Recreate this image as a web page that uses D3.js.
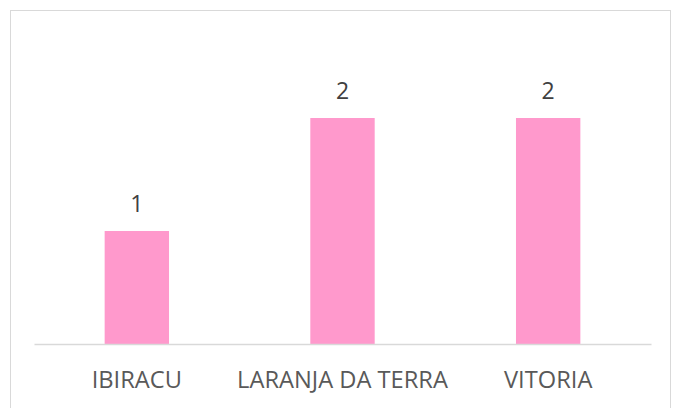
<!DOCTYPE html>
<html>
<head>
<meta charset="utf-8">
<script src="https://cdn.jsdelivr.net/npm/d3@7"></script>
<style>
html,body{margin:0;padding:0;background:#fff;}
svg{display:block;}
</style>
</head>
<body>
<svg id="chart" width="677" height="408"></svg>
<script>
const categories = ["IBIRACU", "LARANJA DA TERRA", "VITORIA"];
const values = [1, 2, 2];
const labels = ["1", "2", "2"];

const svg = d3.select("#chart");

svg.append("rect")
  .attr("x", 10.5).attr("y", 10.5)
  .attr("width", 660).attr("height", 410)
  .attr("fill", "#fff").attr("stroke", "#d9d9d9").attr("stroke-width", 1);

const x0 = 34, x1 = 651, yBase = 344;
const x = d3.scaleBand().domain(categories).range([x0, x1]).paddingInner(0.687).paddingOuter(0.3435);
const y = d3.scaleLinear().domain([0, 2.5]).range([yBase, yBase - 2.5 * 113]);

svg.selectAll("rect.bar").data(values).enter().append("rect")
  .attr("class", "bar")
  .attr("x", (d, i) => x(categories[i]))
  .attr("width", x.bandwidth())
  .attr("y", d => y(d))
  .attr("height", d => y(0) - y(d))
  .attr("fill", "#ff99cc");

const axis = d3.axisBottom(x).tickSize(0).tickPadding(0);
const ag = svg.append("g").attr("transform", `translate(0,${yBase})`).call(axis);
ag.select(".domain").attr("stroke", "#d9d9d9").attr("stroke-width", 1.3);
ag.selectAll(".tick text")
  .attr("y", 0).attr("dy", null)
  .attr("transform", "translate(0,43.5)")
  .attr("fill", "#595959")
  .style("font-family", "'Open Sans', sans-serif")
  .style("font-size", "22.5px")
  .each(function() {
    const target = { "LARANJA DA TERRA": 211 }[this.textContent];
    if (target) {
      const w = this.getComputedTextLength();
      const fs = 22.5 * target / w;
      d3.select(this.parentNode.parentNode).selectAll(".tick text").style("font-size", fs + "px");
    }
  });

svg.selectAll("text.lbl").data(values).enter().append("text")
  .attr("class", "lbl")
  .attr("x", (d, i) => x(categories[i]) + x.bandwidth() / 2)
  .attr("y", d => y(d) - 19)
  .attr("text-anchor", "middle")
  .attr("fill", "#404040")
  .style("font-family", "'Open Sans', sans-serif")
  .style("font-size", "23px")
  .text((d, i) => labels[i]);
</script>
</body>
</html>
